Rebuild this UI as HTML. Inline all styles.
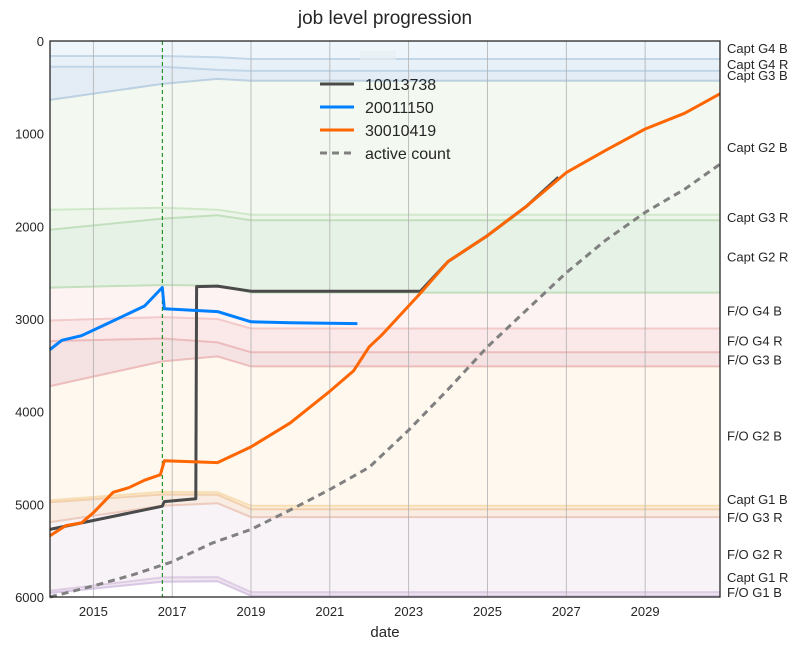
<!DOCTYPE html>
<html><head><meta charset="utf-8"><style>
body{margin:0;background:#fff;font-family:"Liberation Sans",sans-serif}
svg text{font-family:"Liberation Sans",sans-serif}
</style></head><body>
<svg id="c" width="807" height="649"></svg>
<script>
const bandDates=[2013.9,2016.75,2018.15,2019.0,2030.9];
const bandLines=[
[162,162,175,194,194],[277,277,312,323,323],[636,463,409,428,428],
[1820,1800,1820,1875,1875],[2036,1917,1880,1935,1935],[2661,2633,2640,2715,2715],
[3016,2980,3000,3103,3103],[3239,3210,3253,3358,3358],[3724,3458,3404,3512,3512],
[4955,4866,4870,5016,5016],[4977,4894,4897,5052,5052],[5192,5016,4988,5138,5138],
[5932,5789,5785,5947,5947],[5957,5835,5830,5986,5986]];
const bandFills=["#eef6fb","#e8f0f8","#e4ecf5","#f3f9f0","#eef6eb","#e7f2e6","#fdf3f3","#fbe9e9","#f5e3e3","#fef8ef","#fcefdc","#f8ece3","#f8f3f7","#efe6f0","#ffffff"];
const bandStroke=["#b8d0e4","#b8cfe3","#b0c8de","#c8e4c0","#b8dab2","#b8dab2","#f0c0c0","#eab0b0","#eab0b0","#f6d8a8","#f0c8a0","#e8c0b0","#d8c4e0","#d0bce0"];
const rightLabels=["Capt G4 B","Capt G4 R","Capt G3 B","Capt G2 B","Capt G3 R","Capt G2 R","F/O  G4 B","F/O  G4 R","F/O  G3 B","F/O  G2 B","Capt G1 B","F/O  G3 R","F/O  G2 R","Capt G1 R","F/O  G1 B"];
const rightLabelVals=[75,248,367,1142,1897,2328,2910,3233,3438,4255,4945,5139,5538,5786,5948];
const s1x=[2013.9,2016.75,2016.8,2017.6,2017.62,2018.15,2019,2023.3,2024,2025,2026,2026.8];
const s1y=[5270,5020,4970,4940,2650,2645,2700,2700,2380,2100,1780,1470];
const s2x=[2013.9,2014.2,2014.7,2015.3,2015.8,2016.3,2016.75,2016.8,2018.15,2019,2020,2021.7];
const s2y=[3330,3230,3180,3060,2960,2860,2660,2890,2920,3030,3040,3050];
const s3x=[2013.9,2014.3,2014.7,2015.0,2015.5,2015.9,2016.3,2016.7,2016.8,2018.15,2019,2020,2021,2021.6,2022.0,2022.3,2023.3,2024,2025,2026,2027,2028,2029,2030,2030.9];
const s3y=[5340,5230,5200,5090,4870,4820,4740,4680,4530,4550,4380,4120,3780,3560,3300,3180,2720,2380,2100,1780,1420,1180,950,780,570];
const acx=[2013.9,2015,2016,2017,2018,2019,2020,2021,2022,2023,2024,2025,2026,2027,2028,2029,2030,2030.9];
const acy=[6000,5880,5760,5620,5420,5270,5060,4840,4600,4200,3760,3300,2900,2500,2150,1850,1600,1330];
const yTicks=[0,1000,2000,3000,4000,5000,6000];
const xTicks=[2015,2017,2019,2021,2023,2025,2027,2029];

const L=50,R=720,T=41,B=597,x0=2013.9,x1=2030.9;
const X=v=>L+(v-x0)/(x1-x0)*(R-L);
const Y=v=>T+v/6000*(B-T);
const svg=document.getElementById('c');const NS='http://www.w3.org/2000/svg';
function mk(t,a,p){const e=document.createElementNS(NS,t);for(const k in a)e.setAttribute(k,a[k]);(p||svg).appendChild(e);return e;}
function pts(xs,ys){return xs.map((v,i)=>X(v).toFixed(1)+','+Y(ys[i]).toFixed(1)).join(' ');}
mk('rect',{x:L,y:T,width:R-L,height:B-T,fill:'#fff'});
const lines=[bandDates.map(()=>0)].concat(bandLines,[bandDates.map(()=>6000)]);
for(let i=0;i<lines.length-1;i++){
  const top=lines[i],bot=lines[i+1];
  const p=bandDates.map((d,j)=>X(d)+','+Y(top[j])).concat(bandDates.slice().reverse().map((d,j)=>X(d)+','+Y(bot[bot.length-1-j])));
  const e=mk('polygon',{points:p.join(' '),fill:bandFills[i]});
  
  
}
bandLines.forEach((b,i)=>{const e=mk('polyline',{points:pts(bandDates,b),fill:'none',stroke:bandStroke[i],'stroke-width':2,opacity:0.8});

});
xTicks.forEach(t=>{mk('line',{x1:X(t),x2:X(t),y1:T,y2:B,stroke:'#b0b0b0','stroke-width':0.8});
const tx=mk('text',{x:X(t),y:B+19,'text-anchor':'middle','font-size':13,fill:'#262626'});tx.textContent=t;

});
yTicks.forEach(t=>{const tx=mk('text',{x:44,y:Y(t)+5,'text-anchor':'end','font-size':13,fill:'#262626'});tx.textContent=t;

});
mk('line',{x1:X(2016.75),x2:X(2016.75),y1:T,y2:B,stroke:'#008000','stroke-width':1,'stroke-dasharray':'4,3'});
function line(xs,ys,col,w,dash,name){const e=mk('polyline',{points:pts(xs,ys),fill:'none',stroke:col,'stroke-width':w,'stroke-linejoin':'round'});if(dash)e.setAttribute('stroke-dasharray',dash);

}
line(acx,acy,'#808080',3,'7,5','active-count-line');
line(s1x,s1y,'#4a4a4a',3,null,'series-10013738');
line(s2x,s2y,'#0080ff',3,null,'series-20011150');
line(s3x,s3y,'#ff6600',3,null,'series-30010419');
mk('rect',{x:L,y:T,width:R-L,height:B-T,fill:'none',stroke:'#262626','stroke-width':1.3});
rightLabels.forEach((l,i)=>{const tx=mk('text',{x:727,y:Y(rightLabelVals[i])+5,'font-size':13,fill:'#262626','xml:space':'preserve'});tx.textContent=l;

});
mk('rect',{x:360,y:51,width:36,height:10,fill:'#e8eef0',opacity:0.6});
const leg=[['10013738','#4a4a4a',null],['20011150','#0080ff',null],['30010419','#ff6600',null],['active count','#808080','7,5']];
leg.forEach((g,i)=>{const y=84+i*23;const ln=mk('line',{x1:320,x2:354,y1:y,y2:y,stroke:g[1],'stroke-width':3});if(g[2])ln.setAttribute('stroke-dasharray',g[2]);
const tx=mk('text',{x:365,y:y+6,'font-size':16,fill:'#262626'});tx.textContent=g[0];

});
const ti=mk('text',{x:385,y:24,'text-anchor':'middle','font-size':19,fill:'#262626'});ti.textContent='job level progression';


const xl=mk('text',{x:385,y:637,'text-anchor':'middle','font-size':15,fill:'#262626'});xl.textContent='date';


</script></body></html>
